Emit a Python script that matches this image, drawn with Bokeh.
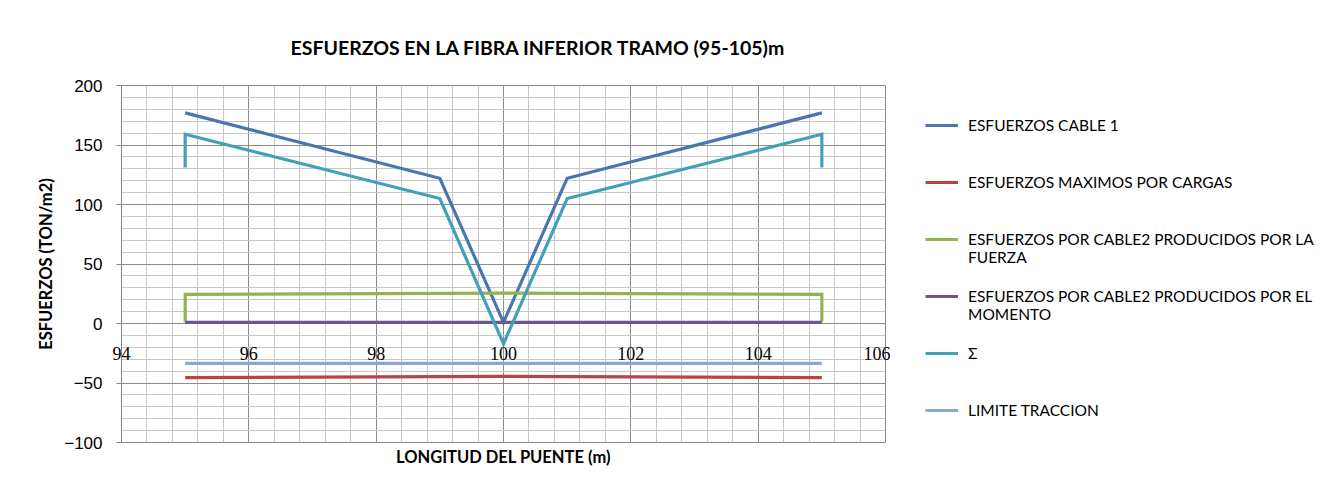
from bokeh.plotting import figure
from bokeh.layouts import row
from bokeh.models import SingleIntervalTicker, Range1d, Legend, LegendItem
from bokeh.embed import file_html
from bokeh.resources import INLINE

# ---------------- data ----------------
TITLE = "ESFUERZOS EN LA FIBRA INFERIOR TRAMO (95-105)m"
X_LABEL = "LONGITUD DEL PUENTE (m)"
Y_LABEL = "ESFUERZOS (TON/m2)"

x_cable1 = [95, 99, 100, 101, 105]
y_cable1 = [177, 122, 1, 122, 177]

x_cargas = [95, 99, 100, 101, 105]
y_cargas = [-45.5, -44.6, -44.4, -44.6, -45.5]

x_fuerza = [95, 95, 99, 100, 101, 105, 105]
y_fuerza = [1.5, 24.5, 25.3, 25.5, 25.3, 24.5, 1.5]

x_momento = [95, 99, 100, 101, 105]
y_momento = [1, 1, 1, 1, 1]

x_sigma = [95, 95, 99, 100, 101, 105, 105]
y_sigma = [131, 159, 105, -17, 105, 159, 131]

x_limite = [95, 99, 100, 101, 105]
y_limite = [-33.5, -33.5, -33.5, -33.5, -33.5]

series_labels = [
    "ESFUERZOS CABLE 1",
    "ESFUERZOS MAXIMOS POR CARGAS",
    "\nESFUERZOS POR CABLE2 PRODUCIDOS POR LA\nFUERZA",
    "\nESFUERZOS POR CABLE2 PRODUCIDOS POR EL\nMOMENTO",
    "Σ",
    "LIMITE TRACCION",
]
series_colors = ["#4A76AE", "#B84542", "#93B250", "#6E5591", "#42A0BA", "#8EA6D4"]

x_tick_interval = 2
y_tick_interval = 50

# ---------------- main chart ----------------
SANS = "Lato"
H = 485
PW = 890

p = figure(width=PW, height=H,
           x_range=Range1d(94, 106), y_range=Range1d(-100, 200),
           output_backend="svg", toolbar_location=None,
           min_border_left=121, min_border_right=PW - 885,
           min_border_top=85, min_border_bottom=H - 442)

p.background_fill_color = "white"
p.border_fill_color = "white"
p.outline_line_color = "#868686"
p.outline_line_width = 1

# title
p.title.text = TITLE
p.title.align = "left"
p.title.offset = 169
p.title.standoff = 53
p.title.text_font = SANS
p.title.text_font_size = "19.5px"
p.title.text_font_style = "bold"
p.title.text_color = "#000000"

xt = SingleIntervalTicker(interval=x_tick_interval, num_minor_ticks=5)
yt = SingleIntervalTicker(interval=y_tick_interval, num_minor_ticks=5)

# x axis: tick labels pulled up next to the y = 0 line, title below the frame
xa = p.xaxis[0]
xa.ticker = xt
xa.axis_line_color = None
xa.major_tick_line_color = None
xa.minor_tick_line_color = None
xa.major_tick_out = 0
xa.major_tick_in = 0
xa.major_label_standoff = -100
xa.major_label_text_font = "Liberation Serif"
xa.major_label_text_font_size = "18px"
xa.major_label_text_color = "#000000"
xa.axis_label = X_LABEL
xa.axis_label_text_font = SANS
xa.axis_label_text_font_size = "16.5px"
xa.axis_label_text_font_style = "bold"
xa.axis_label_text_color = "#000000"
xa.axis_label_standoff = 84

# y axis
ya = p.yaxis[0]
ya.ticker = yt
ya.axis_label = Y_LABEL
ya.axis_label_text_font = SANS
ya.axis_label_text_font_size = "16.5px"
ya.axis_label_text_font_style = "bold"
ya.axis_label_text_color = "#000000"
ya.axis_label_standoff = 5
ya.axis_line_color = "#868686"
ya.major_tick_line_color = "#868686"
ya.major_tick_in = 0
ya.major_tick_out = 5
ya.minor_tick_line_color = None
ya.major_label_standoff = 14
ya.major_label_text_font = "Liberation Sans"
ya.major_label_text_font_size = "17px"
ya.major_label_text_color = "#000000"

# grids
p.xgrid.ticker = xt
p.ygrid.ticker = yt
for g in (p.xgrid, p.ygrid):
    g.grid_line_color = "#8c8c8c"
    g.grid_line_width = 1
    g.minor_grid_line_color = "#c8c8c8"
    g.minor_grid_line_width = 1

# series
xs = [x_cable1, x_cargas, x_fuerza, x_momento, x_sigma, x_limite]
ys = [y_cable1, y_cargas, y_fuerza, y_momento, y_sigma, y_limite]
for xv, yv, c in zip(xs, ys, series_colors):
    p.line(xv, yv, line_color=c, line_width=3.2, line_join="miter")

# ---------------- legend panel ----------------
LW = 430
pl = figure(width=LW, height=H, x_range=Range1d(0, 1), y_range=Range1d(0, 1),
            output_backend="svg", toolbar_location=None,
            x_axis_location=None, y_axis_location=None,
            min_border=0)
pl.grid.visible = False
pl.outline_line_color = None
pl.background_fill_color = "white"
pl.border_fill_color = "white"

nan = float("nan")
key_renderers = [pl.line(x=[nan], y=[nan], line_color=c, line_width=3.2) for c in series_colors]

legend = Legend(items=[LegendItem(label=l, renderers=[r]) for l, r in zip(series_labels, key_renderers)],
                location=(35, 4))
legend.orientation = "vertical"
legend.padding = 0
legend.margin = 0
legend.spacing = 0
legend.label_height = 57
legend.glyph_height = 20
legend.glyph_width = 33
legend.label_standoff = 10
legend.label_text_font = SANS
legend.label_text_font_size = "15.5px"
legend.label_text_color = "#000000"
legend.label_text_line_height = 1.15
legend.border_line_color = None
legend.background_fill_alpha = 0
pl.add_layout(legend, "center")

layout = row(p, pl)
open("out.html", "w").write(file_html(layout, INLINE))
